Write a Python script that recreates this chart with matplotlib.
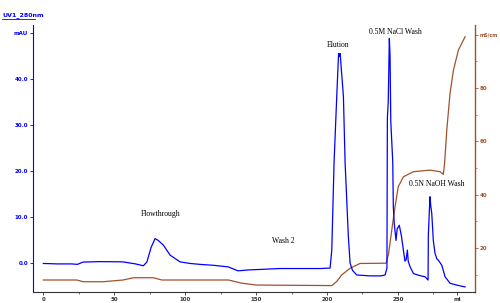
import matplotlib
matplotlib.use("Agg")
import matplotlib.pyplot as plt
from matplotlib.lines import Line2D

# UV 280 nm trace (ml, mAU)
uv_ml = [0, 10, 20, 24, 28, 40, 56, 65, 70.5, 73, 76, 78.8, 81, 84.6, 89.4, 96.4,
         103.5, 110.5, 120, 130.3, 137.3, 145, 152.8, 166.9, 180, 195, 202.2,
         203.4, 205, 206.9, 208.2, 208.7, 209.3, 211.6, 212.8, 215.1, 216.3, 218,
         221, 230.4, 238, 241, 242.3, 242.6, 243.2, 244, 244.5, 245, 246.4, 246.8,
         247.5, 248.7, 249.5, 251, 252.5, 253.9, 255, 255.8, 256.7, 257.3, 258.6,
         261, 265, 269.2, 271.3, 271.5, 272.3, 272.7, 273.2, 273.9, 275, 276.2,
         277.5, 278.6, 281, 283.3, 286.8, 291.5, 297.4]
uv_mau = [0.0, -0.1, -0.1, -0.2, 0.3, 0.4, 0.35, -0.1, -0.5, 0.3, 3.5, 5.4, 5.0, 4.0,
          1.8, 0.35, 0.0, -0.2, -0.4, -0.74, -1.6, -1.4, -1.3, -1.1, -1.1, -1.1, -1.0,
          2.9, 21.8, 36.3, 45.6, 45.0, 45.6, 36.3, 21.8, 5.8, 0.1, -1.5,
          -2.5, -2.7, -2.7, -2.5, -1.0, 31.6, 35.0, 48.9, 45.0, 31.0, 22.0, 12.2,
          8.5, 5.0, 7.5, 8.3, 6.0, 2.9, 0.5, 0.8, 2.9, 0.5, -0.7,
          -2.2, -2.6, -2.9, -3.6, 6.2, 12.0, 14.5, 12.5, 10.9, 5.0, 2.2,
          1.0, 0.7, -0.4, -2.9, -4.3, -4.7, -5.1]

# conductivity trace (ml, mS/cm)
cond_ml = [0, 23.6, 28, 42, 56.2, 63.5, 77.6, 83.5, 130.5, 140, 150.5, 180, 203.4,
           207, 210.4, 216.3, 223.3, 241.7, 243.5, 245.7, 248, 250.3, 253.9, 261,
           272.7, 279.7, 282.1, 283, 284.5, 286.8, 289.2, 292.7, 297.4]
cond_ms = [8.0, 8.0, 7.35, 7.35, 8.0, 8.85, 8.85, 8.0, 8.0, 6.8, 6.1, 6.0, 5.9,
           7.5, 9.9, 12.4, 14.2, 14.3, 18.0, 26.7, 35.5, 43.0, 46.7, 48.6,
           49.2, 48.6, 47.6, 52.0, 64.2, 78.0, 86.7, 94.2, 99.2]

# peak labels
labels = ["Flowthrough", "Wash 2", "Elution", "0.5M NaCl Wash", "0.5N NaOH Wash"]
label_ml = [83, 169, 207.5, 248, 277.5]
label_mau = [10.8, 4.8, 47.5, 50.3, 17.3]

blue = "#0000ff"
brown = "#a0522d"

fig = plt.figure(figsize=(5, 3.03), dpi=100)
ax = fig.add_axes([0.066, 0.0363, 0.884, 0.8812])
ax2 = ax.twinx()

ax.plot(uv_ml, uv_mau, color=blue, lw=0.9, zorder=3)
ax2.plot(cond_ml, cond_ms, color=brown, lw=0.9)
ax.set_zorder(ax2.get_zorder() + 1)
ax.patch.set_visible(False)

ax.set_xlim(-7.3, 304.4)
ax.set_ylim(-6.2, 51.8)
ax2.set_ylim(3.5, 103.6)

ax.set_xticks([0, 50, 100, 150, 200, 250, 292])
ax.set_xticklabels(["0", "50", "100", "150", "200", "250", "ml"])
ax.set_xticks([25, 75, 125, 175, 225, 275], minor=True)
ax.set_yticks([0, 10, 20, 30, 40, 50])
ax.set_yticklabels(["0.0", "10.0", "20.0", "30.0", "40.0", "mAU"])
ax2.set_yticks([20, 40, 60, 80, 100])
ax2.set_yticklabels(["20", "40", "60", "80", "mS/cm"])
ax2.set_yticks([10, 30, 50, 70, 90], minor=True)

ax.tick_params(axis="x", length=2, width=0.6, colors="#333333", labelsize=4, pad=1.5)
ax.tick_params(axis="x", which="minor", length=1.5, width=0.5, colors="#333333")
ax.tick_params(axis="y", length=2, width=0.6, colors=blue, labelsize=4, pad=1.5)
ax2.tick_params(axis="y", length=2, width=0.6, colors=brown, labelsize=4, pad=1.2)
ax2.tick_params(axis="y", which="minor", length=1.5, width=0.5, colors=brown)
for t in ax.get_xticklabels() + ax.get_yticklabels() + ax2.get_yticklabels():
    t.set_fontweight("bold")
ax2.get_yticklabels()[-1].set_fontsize(3.5)

for a in (ax, ax2):
    a.spines["top"].set_visible(False)
ax.spines["left"].set_color(blue)
ax.spines["bottom"].set_color("#333333")
ax.spines["right"].set_visible(False)
ax2.spines["left"].set_visible(False)
ax2.spines["bottom"].set_visible(False)
ax2.spines["right"].set_color(brown)
ax2.spines["right"].set_linewidth(1.0)

for txt, xv, yv in zip(labels, label_ml, label_mau):
    ax.text(xv, yv, txt, ha="center", va="center", fontsize=5.5,
            family="Liberation Serif", color="black")

fig.text(0.004, 0.951, "UV1_280nm", color=blue, fontsize=4.5, fontweight="bold",
         ha="left", va="center")
fig.add_artist(Line2D([0.004, 0.07], [0.938, 0.938], transform=fig.transFigure,
                      color=blue, lw=0.6))

fig.savefig("out.png", dpi=100)
